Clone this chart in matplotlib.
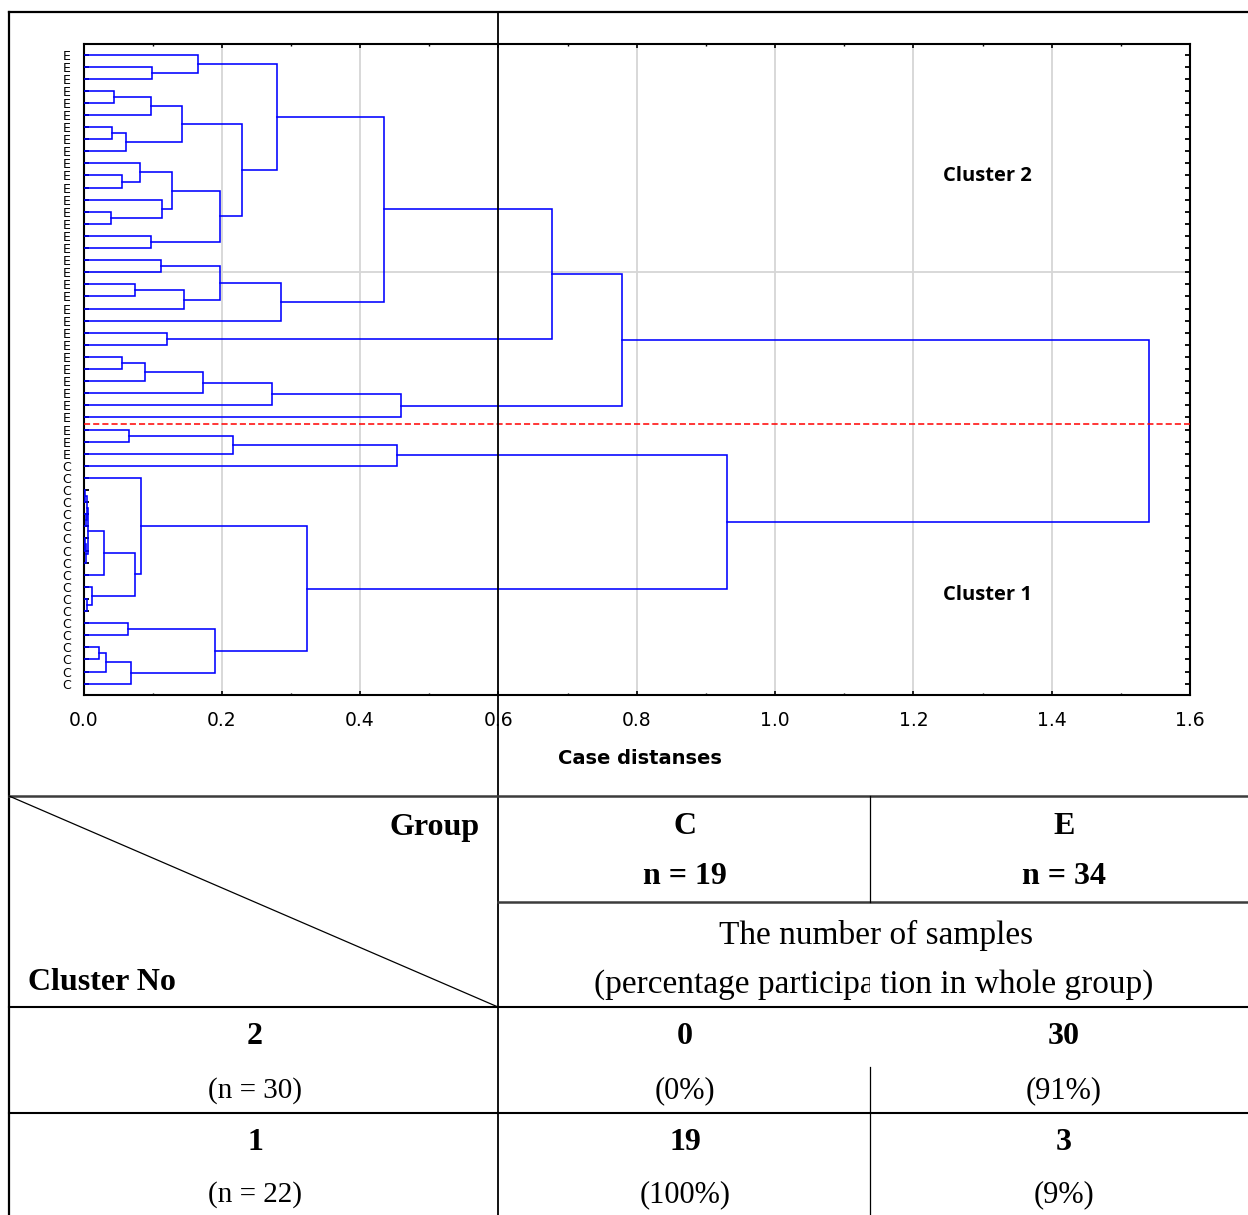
import numpy as np
import matplotlib
matplotlib.use('Agg')
import matplotlib.pyplot as plt
from matplotlib.patches import Rectangle

W, H = 1248, 1215

# ── Dendrogram data ────────────────────────────────────────────────
# leaf order from top to bottom
LEAF_GROUPS = ['E'] * 34 + ['C'] * 19

# agglomeration steps: (child a, child b, linkage distance);
# new nodes get ids 53, 54, ... in order of creation
MERGES = [
    (1, 2, 0.099), (0, 53, 0.166),
    (3, 4, 0.044), (55, 5, 0.097),
    (6, 7, 0.041), (57, 8, 0.062), (56, 58, 0.143),
    (10, 11, 0.056), (9, 60, 0.082),
    (13, 14, 0.040), (12, 62, 0.114), (61, 63, 0.128),
    (15, 16, 0.098), (64, 65, 0.198), (59, 66, 0.229),
    (54, 67, 0.280),
    (17, 18, 0.112), (19, 20, 0.075), (70, 21, 0.145),
    (69, 71, 0.197), (72, 22, 0.286),
    (68, 73, 0.435),
    (23, 24, 0.121), (74, 75, 0.678),
    (25, 26, 0.056), (77, 27, 0.089), (78, 28, 0.173),
    (79, 29, 0.273), (80, 30, 0.459),
    (76, 81, 0.778),
    (31, 32, 0.066), (83, 33, 0.216), (84, 34, 0.454),
    (36, 37, 0.002), (38, 39, 0.003), (86, 87, 0.005),
    (40, 41, 0.002), (89, 42, 0.004), (88, 90, 0.007),
    (91, 43, 0.030),
    (45, 46, 0.0046), (44, 93, 0.012),
    (92, 94, 0.075), (35, 95, 0.083),
    (47, 48, 0.065),
    (49, 50, 0.023), (98, 51, 0.032), (99, 52, 0.068),
    (97, 100, 0.190),
    (96, 101, 0.3235),
    (85, 102, 0.931),
    (82, 103, 1.540),
]

CUT_POS = 30.5      # boundary between cluster 2 and cluster 1 leaves
X_TICKS = [0.0, 0.2, 0.4, 0.6, 0.8, 1.0, 1.2, 1.4, 1.6]

# ── Table data ─────────────────────────────────────────────────────
GROUPS = ['C', 'E']
GROUP_N = [19, 34]
CLUSTERS = ['2', '1']
CLUSTER_N = [30, 22]
COUNTS = [[0, 30], [19, 3]]
PERCENTS = [[0, 91], [100, 9]]

BLUE = '#0000ff'
SERIF = 'Liberation Serif'

fig = plt.figure(figsize=(W / 100, H / 100), dpi=100)

# ── Dendrogram axes ────────────────────────────────────────────────
x0, x1 = 83.5, 1190.0
y0, y1 = 43.5, 695.0
ax = fig.add_axes([x0 / W, 1 - y1 / H, (x1 - x0) / W, (y1 - y0) / H])

n_leaf = len(LEAF_GROUPS)
pos = {i: float(i) for i in range(n_leaf)}
hgt = {i: 0.0 for i in range(n_leaf)}
node = n_leaf
for a, b, d in MERGES:
    ax.plot([hgt[a], d, d, hgt[b]], [pos[a], pos[a], pos[b], pos[b]],
            color=BLUE, lw=1.15, solid_joinstyle='miter', zorder=3)
    pos[node] = (pos[a] + pos[b]) / 2
    hgt[node] = d
    node += 1

ax.axhline(CUT_POS, color='#ff0000', lw=1.1, ls=(0, (4, 2)), zorder=4)

ax.set_xlim(0, 1.6)
ax.set_ylim(52.94, -0.91)
ax.set_xticks(X_TICKS)
ax.set_xticklabels([f'{v:.1f}' for v in X_TICKS])
ax.set_xticks(np.arange(0.1, 1.6, 0.2), minor=True)
ax.set_yticks(range(n_leaf))
ax.set_yticklabels(LEAF_GROUPS)

ax.grid(axis='x', which='major', color='#d6d6d6', lw=1.3, zorder=0)
ax.axhline(18, color='#d6d6d6', lw=1.3, zorder=0)
ax.set_axisbelow(True)

for s in ax.spines.values():
    s.set_linewidth(1.5)
ax.tick_params(axis='both', which='both', direction='in')
ax.tick_params(axis='y', left=True, right=True, length=3.8, width=1.3,
               labelsize=9, pad=9)
ax.tick_params(axis='x', which='major', top=True, bottom=True, length=3,
               width=1.2, labelsize=13.5, pad=11.5)
ax.tick_params(axis='x', which='minor', top=True, bottom=True, length=1.6,
               width=1.0)

# ── Overlay in pixel coordinates for table and annotations ─────────
ov = fig.add_axes([0, 0, 1, 1], zorder=5)
ov.set_xlim(0, W)
ov.set_ylim(H, 0)
ov.axis('off')

ov.text(943, 176, 'Cluster 2', ha='left', va='center', fontsize=14.5,
        fontweight='bold', family='Open Sans')
ov.text(943, 595, 'Cluster 1', ha='left', va='center', fontsize=14.5,
        fontweight='bold', family='Open Sans')
ov.text(640, 758, 'Case distanses', ha='center', va='center', fontsize=14,
        fontweight='bold')

# frame and grid lines
ov.plot([9, 9], [12, H], color='black', lw=1.6)
ov.plot([9, W], [12, 12], color='black', lw=1.6)
ov.plot([498, 498], [12, H], color='black', lw=1.3)
ov.plot([9, W], [796, 796], color='#3c3c3c', lw=1.8)
ov.plot([498, W], [902, 902], color='#3c3c3c', lw=1.8)
ov.plot([870, 870], [796, 902], color='black', lw=0.9)
ov.plot([870, 870], [1067, H], color='black', lw=0.9)
ov.plot([9, 498], [796, 1007], color='black', lw=0.9)
ov.plot([9, W], [1007, 1007], color='black', lw=1.5)
ov.plot([9, W], [1113, 1113], color='black', lw=1.5)

# header
ov.text(480, 827, 'Group', ha='right', va='center', fontsize=23,
        fontweight='bold', family=SERIF)
ov.text(28, 982, 'Cluster No', ha='left', va='center', fontsize=23,
        fontweight='bold', family=SERIF)
col_x = [685, 1064]
for cx, g, n in zip(col_x, GROUPS, GROUP_N):
    ov.text(cx, 827, g, ha='center', va='center', fontsize=23,
            fontweight='bold', family=SERIF)
    ov.text(cx, 877, f'n = {n}', ha='center', va='center', fontsize=23,
            fontweight='bold', family=SERIF)

ov.text(876, 935, 'The number of samples', ha='center', va='center',
        fontsize=24, family=SERIF)
# the cell text is split at the column border
ov.text(875, 985, '(percentage participa', ha='right', va='center',
        fontsize=24, family=SERIF)
ov.add_patch(Rectangle((870, 965), 8, 40, facecolor='white',
                       edgecolor='none', zorder=6))
ov.text(880, 985, 'tion in whole group)', ha='left', va='center',
        fontsize=24, family=SERIF, zorder=7)

# body rows
row_y = [(1037, 1091), (1143, 1195)]
for (ya, yb), cl, cn, cnt, pct in zip(row_y, CLUSTERS, CLUSTER_N, COUNTS, PERCENTS):
    ov.text(255, ya, cl, ha='center', va='center', fontsize=23,
            fontweight='bold', family=SERIF)
    ov.text(255, yb, f'(n = {cn})', ha='center', va='center', fontsize=21,
            family=SERIF)
    for cx, c, p in zip(col_x, cnt, pct):
        ov.text(cx, ya, str(c), ha='center', va='center', fontsize=23,
                fontweight='bold', family=SERIF)
        ov.text(cx, yb, f'({p}%)', ha='center', va='center', fontsize=22,
                family=SERIF)

fig.savefig('out.png', dpi=100)
